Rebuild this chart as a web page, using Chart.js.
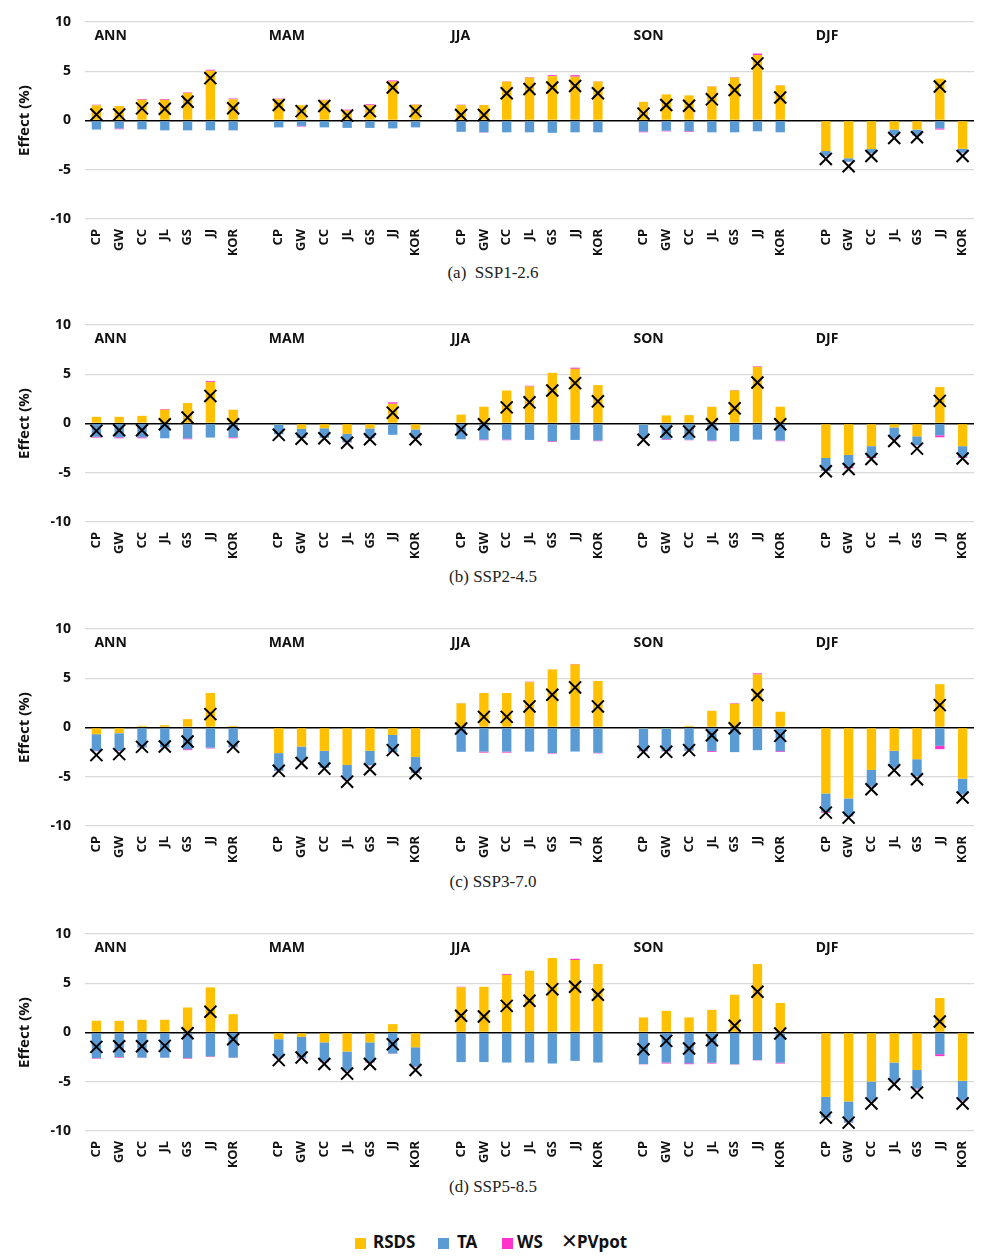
<!DOCTYPE html>
<html>
<head>
<meta charset="utf-8">
<script src="https://cdn.jsdelivr.net/npm/chart.js@4"></script>
<style>
  html, body { margin: 0; padding: 0; background: #fff; }
  body { width: 986px; height: 1260px; position: relative; overflow: hidden; font-family: "Noto Sans", sans-serif; }
  canvas { position: absolute; left: 0; }
  .cap { position: absolute; left: 0; width: 986px; text-align: center; font-family: "Liberation Serif", serif; font-size: 17px; color: #222; white-space: pre; }
  .leg { position: absolute; top: 1232px; left: 0; width: 986px; height: 22px; font-family: "Noto Sans", sans-serif; font-weight: bold; font-size: 17px; color: #111; }
  .leg .sw { position: absolute; top: 6px; width: 11px; height: 11px; }
  .leg .tx { position: absolute; top: -1px; line-height: 22px; }
</style>
</head>
<body>
<canvas id="c0" width="986" height="249" style="top:10px"></canvas>
<canvas id="c1" width="986" height="249" style="top:313px"></canvas>
<canvas id="c2" width="986" height="249" style="top:617px"></canvas>
<canvas id="c3" width="986" height="249" style="top:922px"></canvas>
<div class="cap" style="top:263px">(a)  SSP1-2.6</div>
<div class="cap" style="top:567px">(b) SSP2-4.5</div>
<div class="cap" style="top:872px">(c) SSP3-7.0</div>
<div class="cap" style="top:1177px">(d) SSP5-8.5</div>
<div class="leg">
  <span class="sw" style="left:355px;background:#FFC000"></span><span class="tx" style="left:373px">RSDS</span>
  <span class="sw" style="left:438px;background:#5B9BD5"></span><span class="tx" style="left:457px">TA</span>
  <span class="sw" style="left:502px;background:#FF33CC"></span><span class="tx" style="left:517px">WS</span>
  <span class="tx" style="left:561px;font-weight:normal;font-size:20px;top:-2px">&#x2715;</span><span class="tx" style="left:577px">PVpot</span>
</div>
<script>
// ---- categories ----
const REGIONS = ['CP', 'GW', 'CC', 'JL', 'GS', 'JJ', 'KOR'];
const SEASONS = ['ANN', 'MAM', 'JJA', 'SON', 'DJF'];
const SCENARIOS = ['SSP1-2.6', 'SSP2-4.5', 'SSP3-7.0', 'SSP5-8.5'];
const Y_TICKS = [10, 5, 0, -5, -10];

// ---- values, order: ANN, MAM, JJA, SON, DJF x (CP, GW, CC, JL, GS, JJ, KOR) ----
// SSP1-2.6
const ssp126_RSDS = [1.55, 1.47, 2.1, 2.1, 2.8, 5.05, 2.15,   2.15, 1.55, 2.05, 1.0, 1.55, 3.95, 1.6,
  1.57, 1.57, 3.95, 4.35, 4.5, 4.45, 3.95,   1.9, 2.65, 2.55, 3.45, 4.35, 6.65, 3.55,   -3.1, -3.83, -2.9, -0.92, -0.92, 4.25, -2.88];
const ssp126_TA = [-0.92, -0.82, -0.9, -1.0, -1.0, -1.0, -1.0,   -0.7, -0.55, -0.7, -0.75, -0.75, -0.8, -0.7,
  -1.15, -1.2, -1.2, -1.2, -1.25, -1.2, -1.2,   -1.12, -1.03, -1.08, -1.2, -1.2, -1.1, -1.2,   -0.5, -0.35, -0.4, -0.58, -0.58, -0.8, -0.4];
const ssp126_WS = [0.05, -0.07, 0.08, 0.08, 0.05, 0.1, 0.08,   0.07, -0.06, 0.05, 0.1, 0.1, 0.12, 0.03,
  0.03, -0.03, 0.03, 0.05, 0.1, 0.15, 0.03,   -0.08, -0.07, -0.07, 0.03, 0.05, 0.15, 0.03,   -0.03, -0.03, -0.03, -0.03, -0.03, -0.12, -0.03];
const ssp126_PV = [0.6, 0.6, 1.23, 1.2, 1.9, 4.3, 1.25,   1.57, 0.95, 1.47, 0.5, 0.95, 3.35, 0.95,
  0.55, 0.55, 2.77, 3.2, 3.35, 3.5, 2.77,   0.7, 1.57, 1.5, 2.15, 3.1, 5.8, 2.33,   -3.9, -4.65, -3.6, -1.78, -1.7, 3.45, -3.6];
// SSP2-4.5
const ssp245_RSDS = [0.68, 0.68, 0.78, 1.4, 2.08, 4.2, 1.4,   -0.05, -0.55, -0.48, -1.05, -0.5, 2.0, -0.6,
  0.9, 1.7, 3.35, 3.75, 5.15, 5.55, 3.9,   -0.05, 0.82, 0.85, 1.7, 3.35, 5.75, 1.7,   -3.5, -3.2, -2.3, -0.4, -1.3, 3.7, -2.3];
const ssp245_TA = [-1.35, -1.4, -1.4, -1.5, -1.52, -1.43, -1.4,   -1.05, -0.9, -0.95, -0.85, -0.95, -1.15, -0.85,
  -1.6, -1.62, -1.62, -1.67, -1.8, -1.67, -1.72,   -1.4, -1.6, -1.65, -1.72, -1.8, -1.64, -1.72,   -1.3, -1.2, -1.1, -1.1, -0.9, -1.2, -1.1];
const ssp245_WS = [-0.08, -0.1, -0.1, 0.07, -0.08, 0.1, -0.1,   0.0, -0.03, -0.03, -0.03, -0.03, 0.15, -0.03,
  0.0, -0.08, -0.08, 0.08, -0.07, 0.12, -0.08,   -0.03, -0.07, -0.05, -0.08, 0.05, 0.06, -0.08,   -0.03, -0.15, -0.1, -0.05, -0.03, -0.2, -0.08];
const ssp245_PV = [-0.75, -0.68, -0.68, -0.07, 0.6, 2.8, -0.07,   -1.15, -1.55, -1.5, -1.95, -1.6, 1.1, -1.6,
  -0.6, -0.07, 1.64, 2.15, 3.35, 4.1, 2.25,   -1.65, -0.82, -0.82, -0.07, 1.54, 4.16, -0.07,   -4.85, -4.62, -3.6, -1.78, -2.55, 2.3, -3.55];
// SSP3-7.0
const ssp370_RSDS = [-0.68, -0.58, 0.17, 0.24, 0.85, 3.5, 0.17,   -2.6, -1.93, -2.37, -3.8, -2.37, -0.75, -3.0,
  2.45, 3.5, 3.5, 4.6, 5.9, 6.4, 4.72,   -0.05, -0.05, 0.17, 1.7, 2.42, 5.38, 1.6,   -6.7, -7.2, -4.3, -2.37, -3.22, 4.4, -5.2];
const ssp370_TA = [-1.7, -1.8, -2.0, -2.0, -2.2, -2.05, -2.0,   -1.8, -1.46, -1.7, -1.46, -1.46, -1.73, -1.6,
  -2.47, -2.45, -2.45, -2.45, -2.6, -2.44, -2.57,   -2.35, -2.35, -2.35, -2.37, -2.5, -2.3, -2.4,   -1.88, -1.8, -1.7, -1.7, -1.7, -1.86, -1.6];
const ssp370_WS = [-0.03, -0.03, -0.03, -0.03, -0.1, -0.07, -0.03,   -0.03, -0.03, -0.03, -0.03, -0.03, -0.03, -0.03,
  0.03, -0.1, -0.1, 0.05, -0.05, 0.05, -0.05,   -0.03, -0.03, -0.03, -0.1, 0.06, 0.12, -0.08,   -0.08, -0.03, -0.03, -0.03, -0.03, -0.34, -0.03];
const ssp370_PV = [-2.8, -2.7, -1.97, -1.93, -1.42, 1.36, -1.97,   -4.4, -3.6, -4.17, -5.5, -4.24, -2.3, -4.64,
  -0.1, 1.08, 1.08, 2.14, 3.32, 4.07, 2.14,   -2.47, -2.47, -2.3, -0.78, -0.07, 3.3, -0.85,   -8.64, -9.15, -6.27, -4.34, -5.25, 2.27, -7.1];
// SSP5-8.5
const ssp585_RSDS = [1.19, 1.19, 1.29, 1.29, 2.54, 4.58, 1.86,   -0.68, -0.44, -1.0, -1.93, -1.0, 0.85, -1.5,
  4.58, 4.64, 5.85, 6.27, 7.56, 7.36, 6.95,   1.53, 2.2, 1.53, 2.3, 3.83, 6.95, 3.0,   -6.54, -7.0, -4.98, -3.05, -3.8, 3.5, -4.9];
const ssp585_TA = [-2.6, -2.5, -2.55, -2.55, -2.6, -2.42, -2.55,   -1.86, -2.12, -1.95, -1.97, -2.0, -2.14, -1.95,
  -3.0, -3.0, -3.05, -3.05, -3.15, -2.88, -3.05,   -3.2, -3.05, -3.12, -3.07, -3.22, -2.8, -3.07,   -2.1, -2.14, -1.97, -1.93, -1.9, -2.2, -2.0];
const ssp585_WS = [-0.06, -0.06, -0.03, -0.03, -0.06, -0.06, -0.03,   -0.03, -0.06, -0.06, -0.03, -0.06, -0.03, -0.06,
  0.06, 0.0, 0.1, 0.0, 0.0, 0.12, 0.0,   -0.03, -0.1, -0.1, -0.08, -0.03, -0.03, -0.08,   -0.03, -0.03, -0.03, -0.03, -0.08, -0.2, -0.06];
const ssp585_PV = [-1.46, -1.4, -1.4, -1.36, -0.07, 2.1, -0.68,   -2.8, -2.54, -3.2, -4.17, -3.2, -1.19, -3.8,
  1.7, 1.63, 2.7, 3.22, 4.4, 4.64, 3.83,   -1.7, -0.85, -1.63, -0.78, 0.68, 4.14, -0.1,   -8.64, -9.15, -7.2, -5.25, -6.1, 1.12, -7.2];

const COLORS = { RSDS: '#FFC000', TA: '#5B9BD5', WS: '#FF33CC', PV: '#000000' };

// ---- build category axis with a blank slot between seasons ----
const labels = [];
const seasonStart = [];
SEASONS.forEach((s, si) => {
  if (si > 0) labels.push('');
  seasonStart.push(labels.length);
  REGIONS.forEach(r => labels.push(r));
});
function pad(arr) {
  const out = [];
  SEASONS.forEach((s, si) => {
    if (si > 0) out.push(null);
    for (let i = 0; i < REGIONS.length; i++) out.push(arr[si * REGIONS.length + i]);
  });
  return out;
}

const panels = [
  [ssp126_RSDS, ssp126_TA, ssp126_WS, ssp126_PV],
  [ssp245_RSDS, ssp245_TA, ssp245_WS, ssp245_PV],
  [ssp370_RSDS, ssp370_TA, ssp370_WS, ssp370_PV],
  [ssp585_RSDS, ssp585_TA, ssp585_WS, ssp585_PV]
];

const FONT = '"Noto Sans", sans-serif';

const seasonLabelPlugin = {
  id: 'seasonLabels',
  afterDraw(chart) {
    const ctx = chart.ctx;
    const xs = chart.scales.x;
    ctx.save();
    ctx.font = 'bold 14px ' + FONT;
    ctx.fillStyle = '#111';
    ctx.textAlign = 'left';
    ctx.textBaseline = 'middle';
    SEASONS.forEach((s, i) => {
      const off = i === 0 ? -2 : -10;
      ctx.fillText(s, xs.getPixelForValue(seasonStart[i]) + off, chart.chartArea.top + 14);
    });
    ctx.restore();
  }
};

panels.forEach((p, idx) => {
  const [rsds, ta, ws, pv] = p;
  new Chart(document.getElementById('c' + idx), {
    type: 'bar',
    data: {
      labels: labels,
      datasets: [
        { type: 'line', label: 'PVpot', data: pad(pv), showLine: false, pointStyle: 'crossRot',
          pointRadius: 8.5, pointHoverRadius: 8.5, borderColor: COLORS.PV, backgroundColor: COLORS.PV,
          pointBorderWidth: 2, borderWidth: 2, stack: 'pv', order: 0, clip: false },
        { label: 'RSDS', data: pad(rsds), backgroundColor: COLORS.RSDS, stack: 's', order: 1,
          barPercentage: 0.41, categoryPercentage: 1 },
        { label: 'TA', data: pad(ta), backgroundColor: COLORS.TA, stack: 's', order: 1,
          barPercentage: 0.41, categoryPercentage: 1 },
        { label: 'WS', data: pad(ws), backgroundColor: COLORS.WS, stack: 's', order: 1,
          barPercentage: 0.41, categoryPercentage: 1 }
      ]
    },
    options: {
      responsive: false,
      animation: false,
      devicePixelRatio: 1,
      layout: { padding: { top: 12, right: 12, bottom: 0, left: 0 } },
      plugins: { legend: { display: false }, tooltip: { enabled: false } },
      scales: {
        x: {
          stacked: true,
          grid: { display: false, drawTicks: false },
          border: { display: false },
          ticks: {
            autoSkip: false, maxRotation: 90, minRotation: 90, padding: 10,
            color: '#111', font: { family: FONT, weight: 'bold', size: 13 }
          },
          afterFit(scale) { scale.height = 40; scale.paddingLeft = 0; scale.paddingRight = 0; scale.paddingTop = 0; scale.paddingBottom = 0; }
        },
        y: {
          stacked: true,
          min: -10, max: 10,
          afterBuildTicks(scale) { scale.ticks = Y_TICKS.slice().reverse().map(v => ({ value: v })); },
          grid: {
            drawTicks: false,
            color: c => (c.tick && c.tick.value === 0) ? '#000000' : '#D9D9D9',
            lineWidth: c => (c.tick && c.tick.value === 0) ? 1.6 : 1.2
          },
          border: { display: false },
          ticks: { padding: 14, color: '#111', font: { family: FONT, weight: 'bold', size: 14 } },
          title: { display: true, text: 'Effect (%)', color: '#111', padding: { top: 16, bottom: 0 },
                   font: { family: FONT, weight: 'bold', size: 15 } },
          afterFit(scale) { scale.width = 85; scale.paddingTop = 0; scale.paddingBottom = 0; scale.paddingLeft = 0; scale.paddingRight = 0; }
        }
      }
    },
    plugins: [seasonLabelPlugin]
  });
});
</script>
</body>
</html>
